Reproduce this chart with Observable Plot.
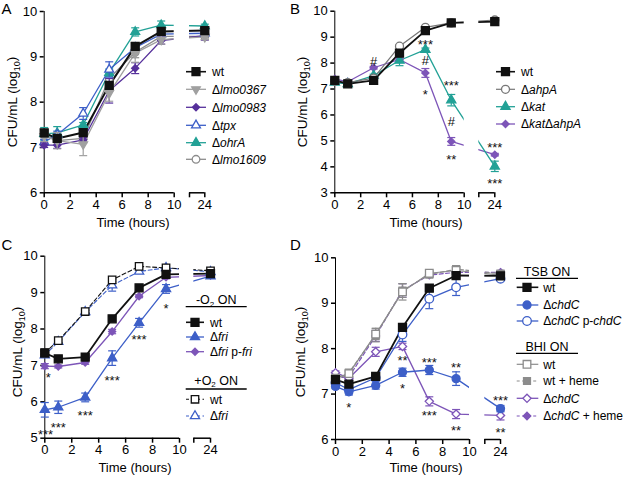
<!DOCTYPE html>
<html><head><meta charset="utf-8">
<script src="https://cdn.jsdelivr.net/npm/d3@7"></script>
<script src="https://cdn.jsdelivr.net/npm/@observablehq/plot@0.6"></script>
<style>
body{margin:0;background:#fff}
#root{position:relative;width:625px;height:478px;font-family:"Liberation Sans",Arial,sans-serif;overflow:hidden;background:#fff}
#root svg{position:absolute;overflow:visible}
#root [aria-label^="x-axis"],#root [aria-label^="y-axis"]{stroke-width:1.5px}
#root svg [aria-label*="axis"] text{font-size:13px !important;stroke:none}
</style></head><body><div id="root"></div>
<script>
// ---------------- DATA ----------------
const hours = [0, 1, 3, 5, 7, 9, 24];
const xTickHours = [0, 2, 4, 6, 8, 10, 24];

// Panel A
const A_wt       = [7.32, 7.20, 7.33, 8.37, 9.23, 9.56, 9.58];
const A_wt_sd    = [0.08, 0.05, 0.05, 0.07, 0.06, 0.05, 0.05];
const A_lmo0367  = [7.25, 7.15, 7.07, 8.20, 9.08, 9.38, 9.44];
const A_lmo0367_sd = [0.12, 0.18, 0.25, 0.18, 0.20, 0.10, 0.06];
const A_lmo0983  = [7.05, 7.05, 7.17, 8.25, 8.75, 9.36, 9.47];
const A_lmo0983_sd = [0.05, 0.07, 0.05, 0.27, 0.12, 0.08, 0.10];
const A_tpx      = [7.12, 7.28, 7.75, 8.72, 9.20, 9.50, 9.52];
const A_tpx_sd   = [0.06, 0.08, 0.13, 0.17, 0.05, 0.05, 0.05];
const A_ohrA     = [7.30, 7.32, 7.50, 8.65, 9.55, 9.70, 9.68];
const A_ohrA_sd  = [0.14, 0.14, 0.05, 0.08, 0.09, 0.09, 0.04];
const A_lmo1609  = [7.28, 7.15, 7.20, 8.52, 9.10, 9.45, 9.45];
const A_lmo1609_sd = [0.10, 0.08, 0.10, 0.10, 0.12, 0.10, 0.07];
const A_yTicks = [6, 7, 8, 9, 10];

// Panel B
const B_wt       = [7.33, 7.20, 7.33, 8.38, 9.25, 9.55, 9.60];
const B_wt_sd    = [0.05, 0.04, 0.04, 0.05, 0.05, 0.04, 0.04];
const B_ahpA     = [7.30, 7.25, 7.42, 8.65, 9.38, 9.55, 9.66];
const B_ahpA_sd  = [0.04, 0.04, 0.04, 0.05, 0.04, 0.04, 0.04];
const B_kat      = [7.25, 7.20, 7.52, 8.10, 8.52, 6.57, 4.02];
const B_kat_sd   = [0.07, 0.05, 0.05, 0.20, 0.06, 0.22, 0.20];
const B_katahpA  = [7.39, 7.28, 7.82, 8.14, 7.62, 4.98, 4.47];
const B_katahpA_sd = [0.05, 0.05, 0.05, 0.05, 0.17, 0.15, 0.05];
const B_yTicks = [3, 4, 5, 6, 7, 8, 9, 10];
const B_notes = [["#", 3, 8.05], ["***", 7, 8.84], ["#", 7, 8.10], ["*", 7, 6.94],
  ["***", 9, 7.28], ["#", 9, 5.72], ["**", 9, 4.41], ["***", 24, 4.89], ["***", 24, 3.50]];

// Panel C
const C_wt       = [7.34, 7.18, 7.23, 8.28, 9.13, 9.50, 9.52];
const C_wt_sd    = [0.05, 0.05, 0.05, 0.06, 0.05, 0.06, 0.05];
const C_fri      = [5.78, 5.85, 6.12, 7.20, 8.17, 9.10, 9.45];
const C_fri_sd   = [0.20, 0.17, 0.12, 0.20, 0.12, 0.12, 0.05];
const C_frip     = [6.98, 6.97, 7.08, 7.93, 8.90, 9.42, 9.47];
const C_frip_sd  = [0.07, 0.04, 0.05, 0.06, 0.04, 0.04, 0.04];
const C_wtO2     = [7.35, 7.68, 8.48, 9.35, 9.72, 9.68, 9.60];
const C_wtO2_sd  = [0.05, 0.04, 0.04, 0.05, 0.04, 0.04, 0.04];
const C_friO2    = [7.28, 7.65, 8.47, 9.20, 9.58, 9.68, 9.57];
const C_friO2_sd = [0.05, 0.04, 0.04, 0.16, 0.05, 0.05, 0.04];
const C_yTicks = [5, 6, 7, 8, 9, 10];
const C_notes = [["*", 0.25, 6.77], ["***", 0.05, 5.21], ["***", 1, 5.40], ["***", 3, 5.71],
  ["***", 5, 6.68], ["***", 7, 7.80], ["*", 9, 8.65]];

// Panel D
const D_wt       = [7.32, 7.22, 7.39, 8.47, 9.33, 9.61, 9.60];
const D_wt_sd    = [0.05, 0.05, 0.05, 0.06, 0.05, 0.05, 0.04];
const D_chdC     = [7.17, 7.05, 7.19, 7.48, 7.53, 7.34, 6.68];
const D_chdC_sd  = [0.05, 0.07, 0.08, 0.09, 0.10, 0.15, 0.07];
const D_chdCp    = [7.25, 7.10, 7.36, 8.31, 9.10, 9.35, 9.54];
const D_chdCp_sd = [0.05, 0.05, 0.05, 0.15, 0.22, 0.18, 0.03];
const D_bwt      = [7.35, 7.45, 8.32, 9.25, 9.66, 9.72, 9.62];
const D_bwt_sd   = [0.05, 0.05, 0.12, 0.18, 0.04, 0.05, 0.04];
const D_bwtH     = [7.30, 7.47, 8.30, 9.28, 9.63, 9.75, 9.65];
const D_bwtH_sd  = [0.05, 0.05, 0.15, 0.15, 0.04, 0.05, 0.04];
const D_bchdC    = [7.47, 7.35, 7.93, 8.05, 6.84, 6.56, 6.53];
const D_bchdC_sd = [0.04, 0.05, 0.10, 0.07, 0.10, 0.10, 0.10];
const D_bchdCH   = [7.35, 7.38, 8.28, 9.28, 9.62, 9.68, 9.68];
const D_bchdCH_sd = [0.04, 0.05, 0.12, 0.15, 0.04, 0.04, 0.04];
const D_yTicks = [6, 7, 8, 9, 10];
const D_notes = [["*", 1, 6.78], ["**", 5, 7.81], ["*", 5, 7.21], ["***", 7, 7.78], ["***", 7, 6.60],
  ["**", 9, 7.67], ["**", 9, 6.27], ["***", 24, 6.93], ["**", 24, 6.23]];

// Text
const panelLetters = ["A", "B", "C", "D"];
const xLabelText = "Time (hours)";
const yLabelParts = ["CFU/mL (log", "10", ")"];
const C_headers = [["-O", "2", " ON"], ["+O", "2", " ON"]];
const D_headers = [["TSB ON"], ["BHI ON"]];

// ---------------- STYLES ----------------
const BLACK = "#111", GRAY = "#a0a0a0", GRAY2 = "#8c8c8c", PURPLE_D = "#56309b",
      PURPLE = "#7d55b8", BLUE = "#3d5fc8", TEAL = "#22a196";
const SQ = d3.symbolSquare, TRI = d3.symbolTriangle, CIR = d3.symbolCircle;
const DIA = {draw(c, s) { const r = Math.sqrt(s) * 0.62625; c.moveTo(0, -r); c.lineTo(r, 0); c.lineTo(0, r); c.lineTo(-r, 0); c.closePath(); }};
const TRI_DOWN = {draw(c, s) { const y = -Math.sqrt(s / (Math.sqrt(3) * 3)); c.moveTo(0, -y * 2); c.lineTo(-Math.sqrt(3) * y, y); c.lineTo(Math.sqrt(3) * y, y); c.closePath(); }};
const HLINE = {draw(c, s) { const w = Math.sqrt(s / Math.PI); c.moveTo(-w, 0); c.lineTo(w, 0); }};
const DASH = "4,2.5";

const S = (label, v, sd, color, sym, r, open, lw, dash) => ({label, v, sd, color, sym, r, open, lw, dash});

const panels = [
  {letter: 0, left: 0, top: 0, W: 312, H: 239, x0: 43.7, x10: 173.7, seg: 189, x24: 204.3, yTop: 11, yBot: 192.3,
   yTicks: A_yTicks, notes: [], ylab: [16.5, 102], xlab: [133, 226.5],
   series: [
     S([["wt"]], A_wt, A_wt_sd, BLACK, SQ, 4.5, false, 2),
     S([["Δ"], ["lmo0367", 1]], A_lmo0367, A_lmo0367_sd, GRAY, TRI_DOWN, 3.2, false, 1.3),
     S([["Δ"], ["lmo0983", 1]], A_lmo0983, A_lmo0983_sd, PURPLE_D, DIA, 3.2, false, 1.3),
     S([["Δ"], ["tpx", 1]], A_tpx, A_tpx_sd, BLUE, TRI, 3.3, true, 1.3),
     S([["Δ"], ["ohrA", 1]], A_ohrA, A_ohrA_sd, TEAL, TRI, 3.3, false, 1.3),
     S([["Δ"], ["lmo1609", 1]], A_lmo1609, A_lmo1609_sd, GRAY2, CIR, 3.8, true, 1.3)],
   legend: [{lx1: 186, lx2: 206, sx: 196, tx: 212, rows: [71.7, 89.3, 107.3, 125.3, 142.7, 159.3], idx: [0,1,2,3,4,5]}]},
  {letter: 1, left: 312, top: 0, W: 313, H: 239, x0: 334.3, x10: 463.7, seg: 478.3, x24: 494.3, yTop: 10.7, yBot: 192.3,
   yTicks: B_yTicks, notes: B_notes, ylab: [306.5, 102], xlab: [426, 226.5],
   series: [
     S([["wt"]], B_wt, B_wt_sd, BLACK, SQ, 4.5, false, 1.8),
     S([["Δ"], ["ahpA", 1]], B_ahpA, B_ahpA_sd, "#777", CIR, 4, true, 1.2),
     S([["Δ"], ["kat", 1]], B_kat, B_kat_sd, TEAL, TRI, 3.4, false, 1.3),
     S([["Δ"], ["kat", 1], ["Δ"], ["ahpA", 1]], B_katahpA, B_katahpA_sd, PURPLE, DIA, 3.2, false, 1.3)],
   legend: [{lx1: 496, lx2: 515, sx: 505.5, tx: 521, rows: [71.7, 89.3, 106.7, 124], idx: [0,1,2,3]}]},
  {letter: 2, left: 0, top: 239, W: 312, H: 239, x0: 44.3, x10: 179, seg: 193.3, x24: 210, yTop: 255.7, yBot: 437.7,
   yTicks: C_yTicks, notes: C_notes, ylab: [21.5, 352], xlab: [135, 471.5],
   series: [
     S([["wt"]], C_wt, C_wt_sd, BLACK, SQ, 4.5, false, 1.8),
     S([["Δ"], ["fri", 1]], C_fri, C_fri_sd, BLUE, TRI, 3.4, false, 1.3),
     S([["Δ"], ["fri", 1], [" p-"], ["fri", 1]], C_frip, C_frip_sd, PURPLE, DIA, 3.2, false, 1.3),
     S([["wt"]], C_wtO2, C_wtO2_sd, BLACK, SQ, 4.2, true, 1.1, true),
     S([["Δ"], ["fri", 1]], C_friO2, C_friO2_sd, BLUE, TRI, 3.4, true, 1.1, true)],
   legend: [
     {lx1: 186, lx2: 204, sx: 195, tx: 210, rows: [322.3, 337, 351.7], idx: [0,1,2], head: C_headers[0], hy: 300, ux1: 185.7, ux2: 246.7, uy: 306.7},
     {lx1: 186, lx2: 204, sx: 195, tx: 210, rows: [399.3, 416], idx: [3,4], head: C_headers[1], hy: 380.7, ux1: 185.7, ux2: 246.7, uy: 389}]},
  {letter: 3, left: 312, top: 239, W: 313, H: 239, x0: 335, x10: 469, seg: 484.3, x24: 500, yTop: 257.3, yBot: 439,
   yTicks: D_yTicks, notes: D_notes, ylab: [304.5, 352], xlab: [426, 471.5],
   series: [
     S([["wt"]], D_wt, D_wt_sd, BLACK, SQ, 4.5, false, 1.8),
     S([["Δ"], ["chdC", 1]], D_chdC, D_chdC_sd, BLUE, CIR, 4, false, 1.3),
     S([["Δ"], ["chdC", 1], [" p-"], ["chdC", 1]], D_chdCp, D_chdCp_sd, BLUE, CIR, 4.3, true, 1.3),
     S([["wt"]], D_bwt, D_bwt_sd, GRAY2, SQ, 4.3, true, 1.2),
     S([["wt + heme"]], D_bwtH, D_bwtH_sd, GRAY2, SQ, 3.9, false, 1.2, true),
     S([["Δ"], ["chdC", 1]], D_bchdC, D_bchdC_sd, PURPLE, DIA, 3.7, true, 1.3),
     S([["Δ"], ["chdC", 1], [" + heme"]], D_bchdCH, D_bchdCH_sd, PURPLE, DIA, 3.4, false, 1.2, true)],
   legend: [
     {lx1: 516.7, lx2: 538.3, sx: 527, tx: 543.3, rows: [287.3, 305, 321], idx: [0,1,2], head: D_headers[0], hy: 271.7, ux1: 516, ux2: 578, uy: 278.3},
     {lx1: 516.7, lx2: 538.3, sx: 527, tx: 543.3, rows: [364.3, 381, 398.3, 416], idx: [3,4,5,6], head: D_headers[1], hy: 346.7, ux1: 516, ux2: 578, uy: 353.3}]}
];

// ---------------- DRAW ----------------
const root = document.getElementById("root");

function buildPanel(p) {
  const k = (p.x10 - p.x0) / 10;
  const d24 = 10 + (p.x24 - p.x10) / k;
  const dSeg = 10 + (p.seg - p.x10) / k;
  const xd = h => (h > 10 ? d24 + (h - 24) : h);
  const ymin = p.yTicks[0], ymax = p.yTicks[p.yTicks.length - 1];
  const rowsOf = s => hours.map((h, i) => ({x: xd(h), y: s.v[i], lo: s.v[i] - s.sd[i], hi: s.v[i] + s.sd[i]}));
  const order = p.series.slice().reverse();
  const marks = [];
  for (const s of order)
    marks.push(Plot.line(rowsOf(s), {x: "x", y: "y", stroke: s.color, strokeWidth: s.lw, strokeDasharray: s.dash ? DASH : undefined}));
  marks.push(Plot.rect([{a: 10, b: dSeg, c: ymin, d: ymax}], {x1: "a", x2: "b", y1: "c", y2: "d", fill: "white"}));
  for (const s of order) {
    const rows = rowsOf(s);
    const er = rows.filter(d => d.hi - d.lo > 0.05);
    const ec = s.color;
    marks.push(Plot.ruleX(er, {x: "x", y1: "lo", y2: "hi", stroke: ec, strokeWidth: 1.2}));
    marks.push(Plot.dot(er, {x: "x", y: "lo", symbol: HLINE, r: 4, fill: "none", stroke: ec, strokeWidth: 1.2}));
    marks.push(Plot.dot(er, {x: "x", y: "hi", symbol: HLINE, r: 4, fill: "none", stroke: ec, strokeWidth: 1.2}));
    marks.push(Plot.dot(rows, {x: "x", y: "y", symbol: s.sym, r: s.r, fill: s.open ? "white" : s.color, stroke: s.color, strokeWidth: 1.3}));
  }
  marks.push(Plot.ruleY([{a: 0, b: 10, y: ymin}, {a: dSeg, b: d24, y: ymin}], {x1: "a", x2: "b", y: "y", stroke: "#000", strokeWidth: 1.5}));
  const notes = p.notes.map(n => ({t: n[0], x: xd(n[1]), y: n[2]}));
  marks.push(Plot.text(notes.filter(n => n.t[0] === "*"), {x: "x", y: "y", text: "t", fontSize: 13, dy: 3.8, fill: "#111"}));
  marks.push(Plot.text(notes.filter(n => n.t[0] !== "*"), {x: "x", y: "y", text: "t", fontSize: 13, dy: 0, fill: "#111"}));

  const tickPos = xTickHours.map(xd);
  const svg = Plot.plot({
    width: p.W, height: p.H,
    marginLeft: p.x0 - p.left, marginRight: p.left + p.W - p.x24,
    marginTop: p.yTop - p.top, marginBottom: p.top + p.H - p.yBot,
    x: {domain: [0, d24], ticks: [...tickPos.slice(0, 6), dSeg, tickPos[6]],
        tickFormat: d => (d === dSeg ? "" : String(xTickHours[tickPos.indexOf(d)])), tickSize: 5, tickPadding: 2, label: null},
    y: {domain: [ymin, ymax], ticks: p.yTicks, tickFormat: d => String(Math.round(d)), tickSize: 4, tickPadding: 3, line: true, label: null},
    style: {fontSize: "13px", fontFamily: '"Liberation Sans", Arial, sans-serif', background: "transparent", color: "#000", overflow: "visible"},
    marks
  });
  svg.style.left = p.left + "px";
  svg.style.top = p.top + "px";
  root.appendChild(svg);
}
panels.forEach(buildPanel);

// overlay texts and legends
const ov = d3.select(root).append("svg").attr("width", 625).attr("height", 478)
  .style("left", "0px").style("top", "0px").style("pointer-events", "none")
  .attr("font-family", '"Liberation Sans", Arial, sans-serif').attr("fill", "#000");

const letterPos = [[1.5, 13.5], [290, 13.5], [1.5, 250], [290, 250]];
panels.forEach(p => {
  const lp = letterPos[p.letter];
  ov.append("text").attr("x", lp[0]).attr("y", lp[1]).attr("font-size", 15).text(panelLetters[p.letter]);
  const yt = ov.append("text").attr("transform", `translate(${p.ylab[0]},${p.ylab[1]}) rotate(-90)`)
    .attr("text-anchor", "middle").attr("font-size", 13.5);
  yt.append("tspan").text(yLabelParts[0]);
  yt.append("tspan").attr("font-size", 9).attr("dy", "0.35em").text(yLabelParts[1]);
  yt.append("tspan").attr("dy", "-0.25em").text(yLabelParts[2]);
  ov.append("text").attr("x", p.xlab[0]).attr("y", p.xlab[1]).attr("text-anchor", "middle").attr("font-size", 13).text(xLabelText);
  for (const L of p.legend) {
    if (L.head) {
      const ht = ov.append("text").attr("x", (L.ux1 + L.ux2) / 2).attr("y", L.hy).attr("dy", "0.35em")
        .attr("text-anchor", "middle").attr("font-size", 12.5);
      ht.append("tspan").text(L.head[0]);
      if (L.head.length > 1) {
        ht.append("tspan").attr("font-size", 8).attr("dy", "0.3em").text(L.head[1]);
        ht.append("tspan").attr("dy", "-0.2em").text(L.head[2]);
      }
      ov.append("line").attr("x1", L.ux1).attr("x2", L.ux2).attr("y1", L.uy).attr("y2", L.uy).attr("stroke", "#000").attr("stroke-width", 1.3);
    }
    L.idx.forEach((si, j) => {
      const s = p.series[si], y = L.rows[j];
      ov.append("line").attr("x1", L.lx1).attr("x2", L.lx2).attr("y1", y).attr("y2", y)
        .attr("stroke", s.color).attr("stroke-width", Math.min(s.lw, 1.6)).attr("stroke-dasharray", s.dash ? "3,2.5" : null);
      ov.append("path").attr("d", d3.symbol(s.sym, Math.PI * s.r * s.r)()).attr("transform", `translate(${L.sx},${y})`)
        .attr("fill", s.open ? "white" : s.color).attr("stroke", s.color).attr("stroke-width", 1.3);
      const t = ov.append("text").attr("x", L.tx).attr("y", y).attr("dy", "0.36em").attr("font-size", 12);
      s.label.forEach(seg => t.append("tspan").attr("font-style", seg[1] ? "italic" : null).text(seg[0]));
    });
  }
});
</script></body></html>
